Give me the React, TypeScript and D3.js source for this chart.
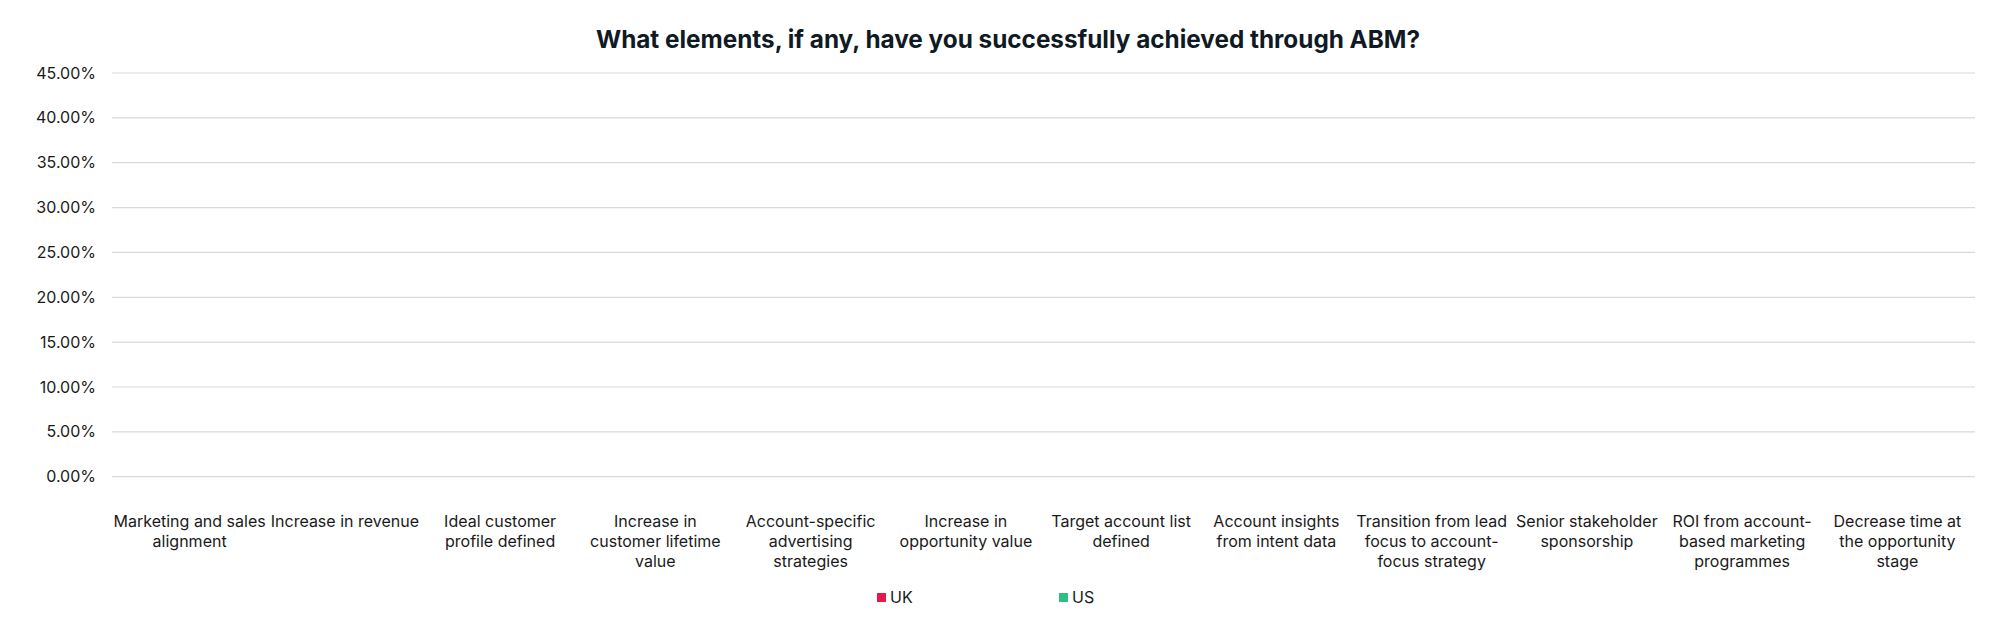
import React from 'react';
import * as d3 from 'd3';

const categories = [
  'Marketing and sales alignment',
  'Increase in revenue',
  'Ideal customer profile defined',
  'Increase in customer lifetime value',
  'Account-specific advertising strategies',
  'Increase in opportunity value',
  'Target account list defined',
  'Account insights from intent data',
  'Transition from lead focus to account-focus strategy',
  'Senior stakeholder sponsorship',
  'ROI from account-based marketing programmes',
  'Decrease time at the opportunity stage',
];

// no bars are visible in the source: every value reads as 0
const ukValues = [0, 0, 0, 0, 0, 0, 0, 0, 0, 0, 0, 0];
const usValues = [0, 0, 0, 0, 0, 0, 0, 0, 0, 0, 0, 0];

const seriesNames = ['UK', 'US'];
const seriesColors = ['#e8174a', '#2cbf84'];
const yTicks = [0, 0.05, 0.1, 0.15, 0.2, 0.25, 0.3, 0.35, 0.4, 0.45];

const title = 'What elements, if any, have you successfully achieved through ABM?';

const width = 2000;
const height = 623;
const margin = { left: 112, right: 25, top: 73, bottom: 148 };
const font = 'Inter, "Noto Sans", sans-serif';

let ctx: CanvasRenderingContext2D | null = null;
const measure = (s: string) => {
  if (!ctx) ctx = document.createElement('canvas').getContext('2d');
  if (!ctx) return s.length * 8;
  ctx.font = '16px Inter';
  return ctx.measureText(s).width;
};

// wrap on spaces and after hyphens, like Excel does
const wrap = (label: string, maxWidth: number) => {
  const tokens: { text: string; space: boolean }[] = [];
  label.split(' ').forEach((word) => {
    word.split(/(?<=-)/).forEach((part, i) => tokens.push({ text: part, space: i === 0 }));
  });
  const lines: string[] = [];
  let line = '';
  tokens.forEach((t) => {
    const next = line === '' ? t.text : line + (t.space ? ' ' : '') + t.text;
    if (line !== '' && measure(next) > maxWidth) {
      lines.push(line);
      line = t.text;
    } else {
      line = next;
    }
  });
  if (line) lines.push(line);
  return lines;
};

const App: React.FC = () => {
  const x = d3.scaleBand<string>()
    .domain(categories)
    .range([margin.left, width - margin.right]);

  const xInner = d3.scaleBand<string>()
    .domain(seriesNames)
    .range([0, x.bandwidth()])
    .paddingOuter(0.3)
    .paddingInner(0.1);

  const y = d3.scaleLinear()
    .domain([0, 0.45])
    .range([height - margin.bottom + 1.7, margin.top]);

  const fmt = d3.format('.2%');
  const series = [ukValues, usValues];

  return (
    <svg
      width={width}
      height={height}
      style={{ position: 'absolute', left: 0, top: 0, background: '#fff' }}
      fontFamily={font}
    >
      <text x={1008} y={48} textAnchor="middle" fontSize={24.3} fontWeight={700} fill="#0f1a24">
        {title}
      </text>

      {yTicks.map((t) => (
        <g key={t}>
          <line
            x1={margin.left}
            x2={width - margin.right}
            y1={y(t)}
            y2={y(t)}
            stroke="#d9d9d9"
            strokeWidth={1.2}
          />
          <text x={96} y={y(t)} dy="0.35em" textAnchor="end" fontSize={16} fill="#1a1a1a">
            {fmt(t)}
          </text>
        </g>
      ))}

      {categories.map((c, i) => (
        <g key={c}>
          {series.map((vals, s) => (
            <rect
              key={s}
              x={(x(c) ?? 0) + (xInner(seriesNames[s]) ?? 0)}
              y={y(vals[i])}
              width={xInner.bandwidth()}
              height={y(0) - y(vals[i])}
              fill={seriesColors[s]}
            />
          ))}
          <text textAnchor="middle" fontSize={16} fill="#1a1a1a">
            {wrap(c, 153).map((ln, k) => (
              <tspan key={k} x={(x(c) ?? 0) + x.bandwidth() / 2} y={527 + k * 20}>
                {ln}
              </tspan>
            ))}
          </text>
        </g>
      ))}

      {seriesNames.map((n, s) => (
        <g key={n} transform={`translate(${877 + s * 182},${593})`}>
          <rect width={9} height={9} fill={seriesColors[s]} />
          <text x={13} y={4.5} dy="0.35em" fontSize={16} fill="#1a1a1a">
            {n}
          </text>
        </g>
      ))}
    </svg>
  );
};

export default App;
